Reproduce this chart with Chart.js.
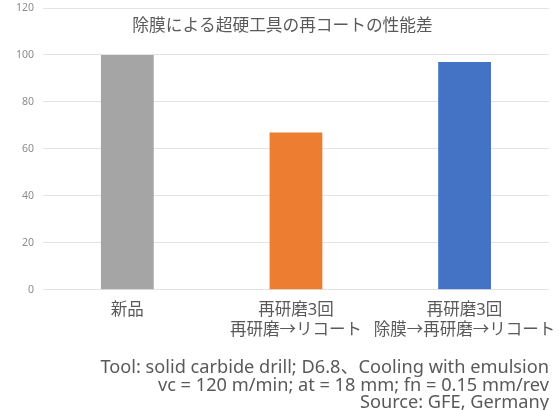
<!DOCTYPE html>
<html>
<head>
<meta charset="utf-8">
<script src="https://cdn.jsdelivr.net/npm/chart.js@4"></script>
<style>
  html, body { margin: 0; padding: 0; background: #fff; }
  #wrap { width: 559px; height: 410px; position: relative; }
</style>
</head>
<body>
<div id="wrap"><canvas id="grafico"></canvas></div>
<script>
// datos del grafico
const categorias = [
  '新品',
  ['再研磨3回', '再研磨→リコート'],
  ['再研磨3回', '除膜→再研磨→リコート']
];
const rendimiento = [100, 67, 97];
const ticksY = [0, 20, 40, 60, 80, 100, 120];
const titulo = '除膜による超硬工具の再コートの性能差';
const notas = [
  'Tool: solid carbide drill; D6.8、Cooling with emulsion',
  'vc = 120 m/min; at = 18 mm; fn = 0.15 mm/rev',
  'Source: GFE, Germany'
];

const colores = ['#A5A5A5', '#ED7D31', '#4472C4'];
const fuente = "'Noto Sans', 'Noto Sans CJK JP', sans-serif";

// titulo dibujado dentro del area (como en el original)
const tituloPlugin = {
  id: 'tituloDentro',
  afterDraw(chart) {
    const c = chart.ctx;
    c.save();
    c.font = '16.7px ' + fuente;
    c.fillStyle = '#595959';
    c.textAlign = 'center';
    c.textBaseline = 'middle';
    c.fillText(titulo, chart.width / 2 + 3, 26);
    c.restore();
  }
};

const ctx = document.getElementById('grafico').getContext('2d');
const chart = new Chart(ctx, {
  type: 'bar',
  data: {
    labels: categorias,
    datasets: [{
      data: rendimiento,
      backgroundColor: colores,
      borderWidth: 0,
      barPercentage: 0.313,
      categoryPercentage: 1
    }]
  },
  options: {
    responsive: true,
    maintainAspectRatio: false,
    animation: false,
    layout: { padding: { left: 7, right: 10, top: 8, bottom: 0 } },
    plugins: {
      legend: { display: false },
      tooltip: { enabled: false },
      subtitle: {
        display: true,
        position: 'bottom',
        align: 'end',
        text: notas,
        color: '#595959',
        font: { family: fuente, size: 18.2, lineHeight: 0.97 },
        padding: { top: 17, bottom: -2 }
      }
    },
    scales: {
      x: {
        grid: { display: false },
        border: { display: false },
        ticks: {
          color: '#595959',
          font: { family: fuente, size: 16.5, lineHeight: 1.22 },
          padding: 2,
          maxRotation: 0,
          autoSkip: false
        }
      },
      y: {
        min: 0,
        max: 120,
        afterBuildTicks(axis) {
          axis.ticks = ticksY.map(v => ({ value: v }));
        },
        afterFit(axis) {
          axis.paddingTop = 0;
        },
        grid: { color: '#E3E3E3', drawTicks: false },
        border: { display: false },
        ticks: {
          color: '#8C8C8C',
          font: { family: fuente, size: 10.5 },
          padding: 9
        }
      }
    }
  },
  plugins: [tituloPlugin]
});
</script>
</body>
</html>
